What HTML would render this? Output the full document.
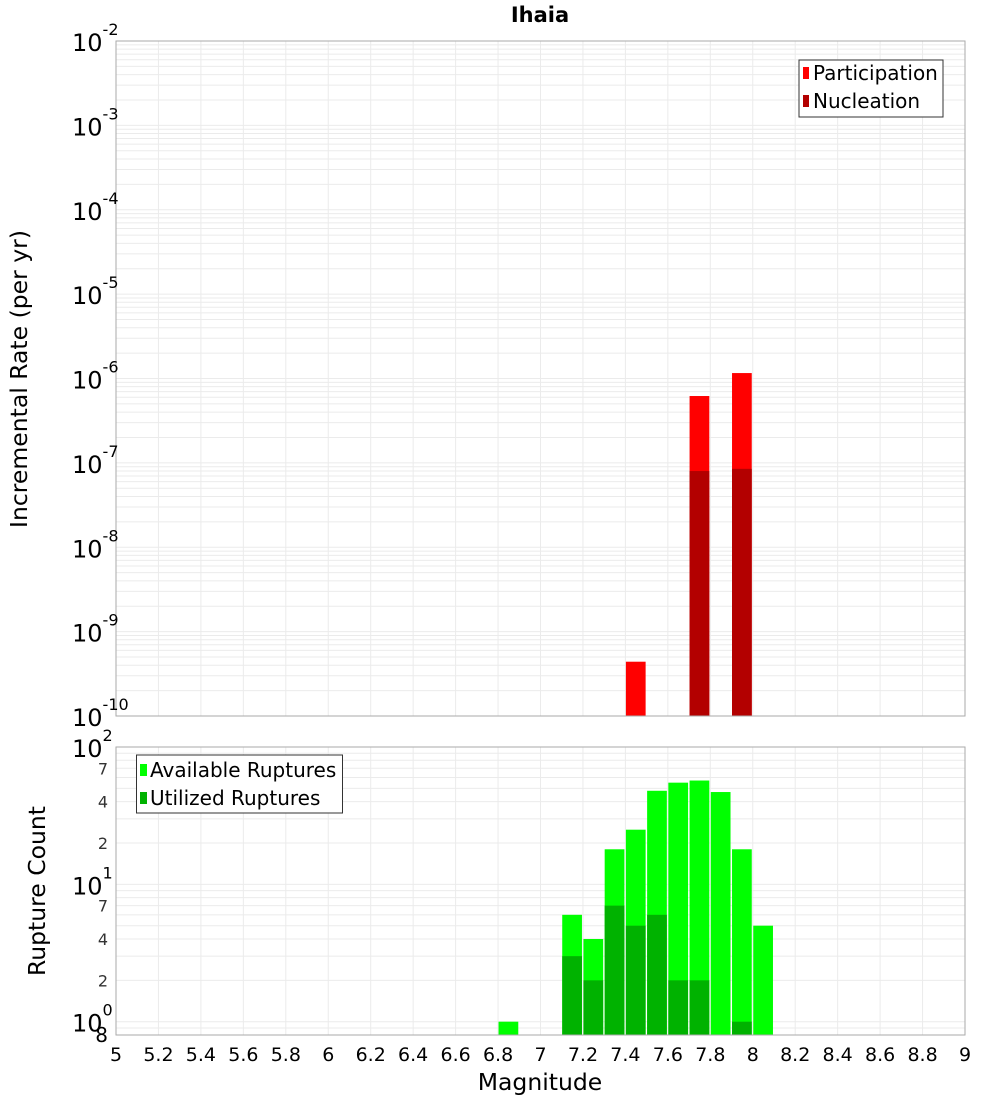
<!DOCTYPE html>
<html><head><meta charset="utf-8"><style>
body{margin:0;background:#fff;}
svg text{font-family:"DejaVu Sans","Liberation Sans",sans-serif;}
</style></head><body>
<svg id="c" width="1000" height="1100" xmlns="http://www.w3.org/2000/svg">
<text x="540" y="22" text-anchor="middle" font-size="21" font-weight="bold">Ihaia</text>
<g id="topPlot"></g>
<g id="botPlot"></g>
<text transform="translate(27,379) rotate(-90)" text-anchor="middle" font-size="23.5">Incremental Rate (per yr)</text>
<text transform="translate(45,891) rotate(-90)" text-anchor="middle" font-size="23.5">Rupture Count</text>
<text x="540" y="1090" text-anchor="middle" font-size="23.5">Magnitude</text>
</svg>
<script>
const binStarts = [7.4, 7.7, 7.9];
const participation = [4.4e-10, 6.2e-7, 1.16e-6];
const nucleation = [0, 8.0e-8, 8.5e-8];
const countBins = [6.8, 7.1, 7.2, 7.3, 7.4, 7.5, 7.6, 7.7, 7.8, 7.9, 8.0];
const available = [1, 6, 4, 18, 25, 48, 55, 57, 47, 18, 5];
const utilized = [0, 3, 2, 7, 5, 6, 2, 2, 0, 1, 0];
const xTicks = [5,5.2,5.4,5.6,5.8,6,6.2,6.4,6.6,6.8,7,7.2,7.4,7.6,7.8,8,8.2,8.4,8.6,8.8,9];
const topExp = [-2,-3,-4,-5,-6,-7,-8,-9,-10];
const botMinorLabels = [70,40,20,7,4,2];

const NS="http://www.w3.org/2000/svg";
const L=116,R=965,BW=0.1;
const X=v=>L+(v-5)/4*(R-L);
function mk(p,tag,a,txt){const e=document.createElementNS(NS,tag);for(const k in a)e.setAttribute(k,a[k]);if(txt!==undefined)e.textContent=txt;p.appendChild(e);return e;}
function logY(t,b,lo,hi){return v=>b-(Math.log10(v)-lo)/(hi-lo)*(b-t);}

const gTop=document.getElementById('topPlot');
const T1=41,B1=716,Yt=logY(T1,B1,-10,-2);
for(let d=-10;d<-2;d++)for(let m=1;m<10;m++){const y=Yt(m*Math.pow(10,d));
 const ln=mk(gTop,'line',{x1:L,x2:R,y1:y,y2:y,stroke:'#ebebeb','stroke-width':1});
 }
xTicks.forEach(v=>{const ln=mk(gTop,'line',{x1:X(v),x2:X(v),y1:T1,y2:B1,stroke:'#ebebeb'});
 });
binStarts.forEach((b,i)=>{
 const x0=X(b)+0.5,w=X(b+BW)-X(b)-1.5;
 const yp=Yt(participation[i]);
 const r=mk(gTop,'rect',{x:x0,y:yp,width:w,height:B1-yp,fill:'#ff0000'});
 
 if(nucleation[i]>0){const yn=Yt(nucleation[i]);
  const n=mk(gTop,'rect',{x:x0,y:yn,width:w,height:B1-yn,fill:'#b30000'});
  }
});
mk(gTop,'rect',{x:L,y:T1,width:R-L,height:B1-T1,fill:'none',stroke:'#aaa'});
topExp.forEach(e=>{const y=Yt(Math.pow(10,e));
 const t=mk(gTop,'text',{x:72,y:y+10,'font-size':24});
 
 t.textContent='10';mk(t,'tspan',{dy:-16,'font-size':16},String(e));});
const lg=mk(gTop,'g',{});


mk(lg,'rect',{x:799,y:60,width:144,height:57,fill:'#fff',stroke:'#333'});
mk(lg,'rect',{x:803,y:67,width:6,height:12,fill:'#ff0000'});
mk(lg,'text',{x:813,y:80,'font-size':20},'Participation');
mk(lg,'rect',{x:803,y:95,width:6,height:12,fill:'#b30000'});
mk(lg,'text',{x:813,y:108,'font-size':20},'Nucleation');

const gBot=document.getElementById('botPlot');
const T2=747,B2=1035,Yb=logY(T2,B2,Math.log10(0.8),2);
[0.8,0.9,1,2,3,4,5,6,7,8,9,10,20,30,40,50,60,70,80,90].forEach(v=>{const y=Yb(v);
 const ln=mk(gBot,'line',{x1:L,x2:R,y1:y,y2:y,stroke:'#ebebeb'});
 });
xTicks.forEach(v=>{const ln=mk(gBot,'line',{x1:X(v),x2:X(v),y1:T2,y2:B2,stroke:'#ebebeb'});
 });
countBins.forEach((b,i)=>{
 const x0=X(b)+0.5,w=X(b+BW)-X(b)-1.5;
 const ya=Yb(available[i]);
 const r=mk(gBot,'rect',{x:x0,y:ya,width:w,height:B2-ya,fill:'#00ff00'});
 
 if(utilized[i]>0){const yu=Yb(utilized[i]);
  const u=mk(gBot,'rect',{x:x0,y:yu,width:w,height:B2-yu,fill:'#00b200'});
  }
});
mk(gBot,'rect',{x:L,y:T2,width:R-L,height:B2-T2,fill:'none',stroke:'#aaa'});
[0,1,2].forEach(e=>{const y=Yb(Math.pow(10,e));
 const t=mk(gBot,'text',{x:72,y:y+10,'font-size':24});
 
 t.textContent='10';mk(t,'tspan',{dy:-16,'font-size':16},String(e));});
botMinorLabels.forEach(v=>{const y=Yb(v);
 const t=mk(gBot,'text',{x:108,y:y+6,'font-size':16,'text-anchor':'end',fill:'#333'},String(v).charAt(0));
 });
{const t=mk(gBot,'text',{x:108,y:1042,'font-size':20,'text-anchor':'end'},'8');
 }
xTicks.forEach(v=>{const t=mk(gBot,'text',{x:X(v),y:1061,'font-size':19,'text-anchor':'middle'},String(v));
 });
const lg2=mk(gBot,'g',{});


mk(lg2,'rect',{x:136.5,y:755,width:206,height:58,fill:'#fff',stroke:'#333'});
mk(lg2,'rect',{x:140,y:764,width:7,height:12,fill:'#00ff00'});
mk(lg2,'text',{x:150,y:777,'font-size':20},'Available Ruptures');
mk(lg2,'rect',{x:140,y:792,width:7,height:12,fill:'#00b200'});
mk(lg2,'text',{x:150,y:805,'font-size':20},'Utilized Ruptures');
</script>
</body></html>
